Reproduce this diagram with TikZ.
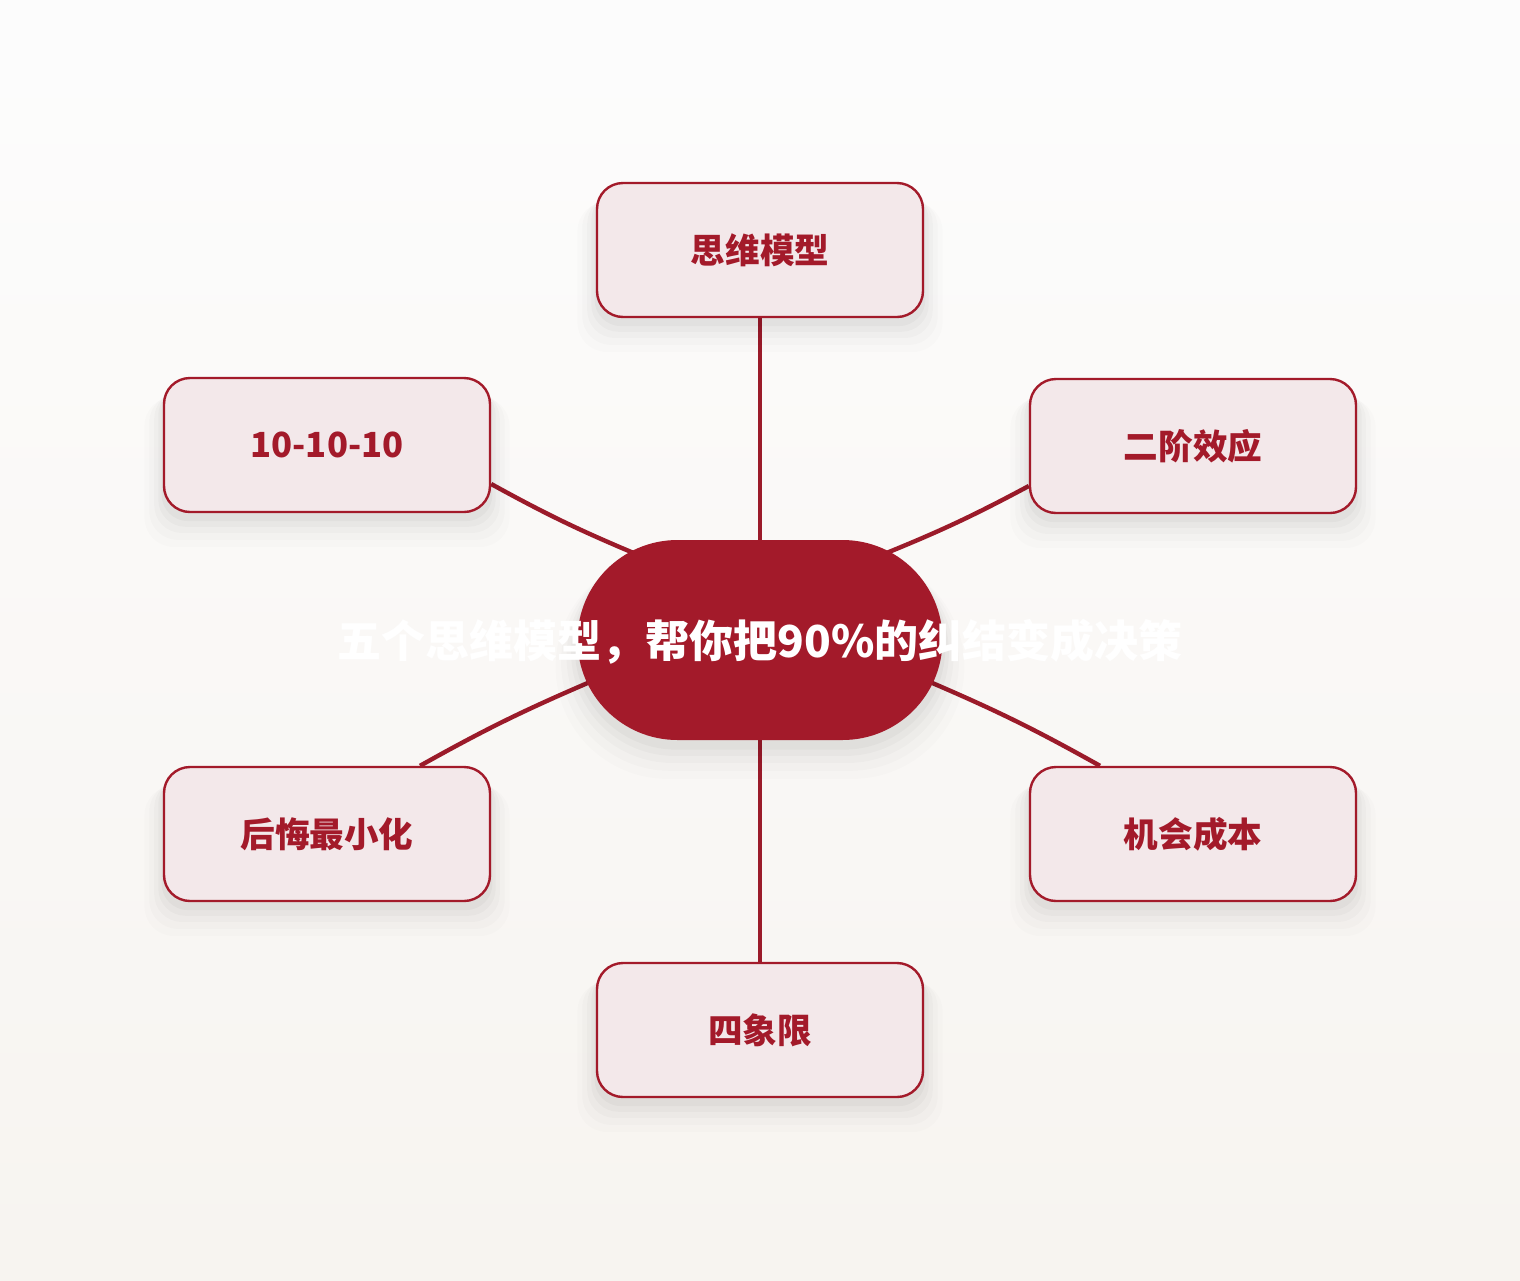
\documentclass[tikz,border=0pt]{standalone}
\usepackage{fontspec}
\newfontfamily\cjk{Noto Sans CJK SC}
\usetikzlibrary{shadows}
\definecolor{rouge}{HTML}{A31A2A}
\definecolor{trait}{HTML}{9B1B2A}
\definecolor{rose}{HTML}{F3E8EA}
\pgfdeclarelayer{fond}
\pgfdeclarelayer{liens}
\pgfsetlayers{fond,liens,main}

\begin{document}
\begin{tikzpicture}[x=0.5pt,y=-0.5pt,
    ombre/.style={general shadow={fill=black,opacity=.012,shadow yshift=-12pt,shadow scale=1.12},
                  general shadow={fill=black,opacity=.015,shadow yshift=-10pt,shadow scale=1.09},
                  general shadow={fill=black,opacity=.018,shadow yshift=-8pt,shadow scale=1.06},
                  general shadow={fill=black,opacity=.022,shadow yshift=-6pt,shadow scale=1.035},
                  general shadow={fill=black,opacity=.026,shadow yshift=-4pt,shadow scale=1.015}},
    modele/.style={ombre,draw=rouge,line width=1.2pt,fill=rose,rounded corners=13pt,
                   minimum width=163pt,minimum height=67pt,text=rouge,
                   font=\cjk\bfseries\fontsize{17.3}{20}\selectfont},
    lien/.style={draw=trait,line width=2.2pt}]
  \begin{pgfonlayer}{fond} % fond degrade
    \shade[top color=white!99!black,bottom color={rgb,255:red,247;green,244;blue,240}]
      (0,0) rectangle (1520,1280);
  \end{pgfonlayer}
  \useasboundingbox (0,0) rectangle (1520,1280);
  % centre
  \node[ombre,fill=rouge,rounded corners=50pt,minimum width=182.5pt,minimum height=100pt,
        inner sep=0pt] (c) at (760,640) {};
  \node[text=white,font=\cjk\bfseries\fontsize{22}{26}\selectfont] (titre) at (760,642)
    {五个思维模型，帮你把90\%的纠结变成决策};
  % modeles
  \node[modele] (haut) at (760,250) {思维模型};
  \node[modele] (hd) at (1193,446) {二阶效应};
  \node[modele] (bd) at (1193,834) {机会成本};
  \node[modele] (bas) at (760,1030) {四象限};
  \node[modele] (bg) at (327,834) {后悔最小化};
  \node[modele] (hg) at (327,445) {10-10-10};
  % liens
  \begin{pgfonlayer}{liens}
    \draw[lien] (haut.south) -- (c.north); % vers le haut
    \draw[lien] ([yshift=-20pt]hd.west) to[bend left=3] ([xshift=62pt,yshift=43pt]c.center); % haut droite
    \draw[lien] ([yshift=-19.5pt]hg.east) to[bend right=3] ([xshift=-62pt,yshift=43pt]c.center); % haut gauche
    \draw[lien] ([xshift=46.5pt]bg.north) to[bend left=3] ([xshift=-85pt,yshift=-21pt]c.center); % bas gauche
    \draw[lien] ([xshift=-46.5pt]bd.north) to[bend right=3] ([xshift=85pt,yshift=-21pt]c.center); % bas droite
    \draw[lien] (c.south) -- (bas.north); % vers le bas
  \end{pgfonlayer}
\end{tikzpicture}
\end{document}
